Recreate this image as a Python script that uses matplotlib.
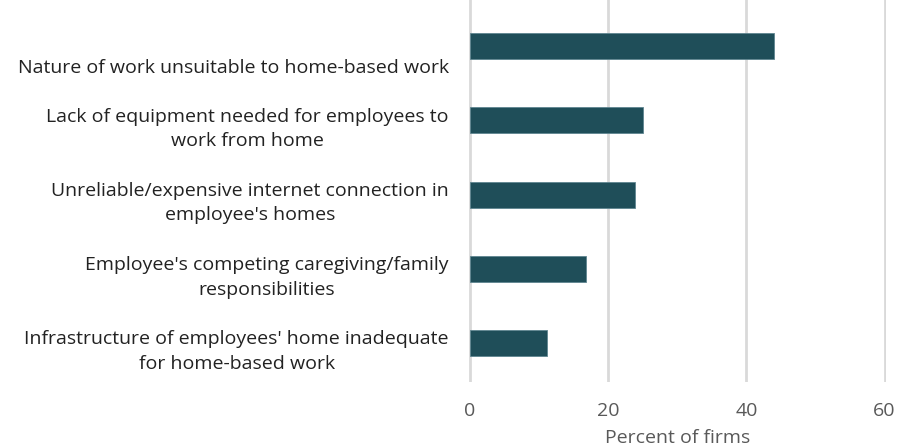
import matplotlib
matplotlib.use("Agg")
import matplotlib.pyplot as plt
import matplotlib.transforms as mtransforms

categories = [
    "Nature of work unsuitable to home-based work",
    "Lack of equipment needed for employees to\nwork from home",
    "Unreliable/expensive internet connection in\nemployee's homes",
    "Employee's competing caregiving/family\nresponsibilities",
    "Infrastructure of employees' home inadequate\nfor home-based work",
]
values = [44.0, 25.0, 23.9, 16.8, 11.1]
xticks = [0, 20, 40, 60]

plt.rcParams['font.family'] = ['Open Sans', 'DejaVu Sans']

fig = plt.figure(figsize=(9, 4.48), dpi=100)
ax = fig.add_axes([0.521, 0.147, 0.463, 0.853])

ypos = list(range(len(categories)))
ax.barh(ypos, values, height=0.35, color="#1f4e59", edgecolor="#5f8590", linewidth=0.6, zorder=3)
ax.set_ylim(len(categories) - 1 + 0.525, -0.62)
ax.set_xlim(-0.15, 60.15)
ax.set_xticks(xticks)
ax.set_xticklabels([str(t) for t in xticks], fontsize=14, color="#595959")
ax.set_yticks(ypos)
ax.set_yticklabels([])
ax.tick_params(axis="y", length=0)
ax.tick_params(axis="x", length=0, pad=14)
ax.grid(axis="x", color="#d9d9d9", linewidth=2, zorder=0)
for s in ax.spines.values():
    s.set_visible(False)
ax.set_xlabel("Percent of firms", fontsize=14, color="#595959", labelpad=7)

blend = mtransforms.blended_transform_factory(ax.transAxes, ax.transData)
for y, lab in zip(ypos, categories):
    nlines = lab.count("\n") + 1
    dy = 22 if nlines == 1 else 8.5
    tr = blend + mtransforms.ScaledTranslation(-20 / 100, -dy / 100, fig.dpi_scale_trans)
    ax.text(0, y, lab, transform=tr, fontsize=14, color="#222222", ha="right",
            va="center", multialignment="center", linespacing=1.45)

fig.savefig("out.png", dpi=100)
